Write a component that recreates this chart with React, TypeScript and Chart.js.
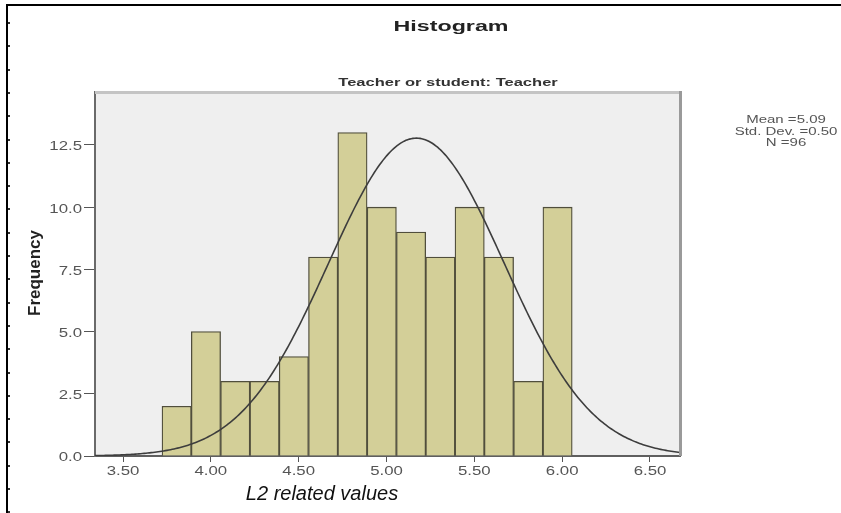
import React, { useEffect, useRef } from "react";
import { Chart, registerables } from "chart.js";

Chart.register(...registerables);

// ---- data ----
const binCenters = [3.8054, 3.9722, 4.139, 4.3058, 4.4726, 4.6394, 4.8062, 4.973, 5.1398, 5.3066, 5.4734, 5.6402, 5.807, 5.9738];
const frequencies = [2, 5, 3, 3, 4, 8, 13, 10, 9, 8, 10, 8, 3, 10];
const xTickValues = [3.5, 4.0, 4.5, 5.0, 5.5, 6.0, 6.5];
const xTickLabels = ["3.50", "4.00", "4.50", "5.00", "5.50", "6.00", "6.50"];
const yTickValues = [0, 2.5, 5, 7.5, 10, 12.5];
const yTickLabels = ["0.0", "2.5", "5.0", "7.5", "10.0", "12.5"];
const statsLines = ["Mean =5.09", "Std. Dev. =0.50", "N =96"];
const titleText = "Histogram";
const subtitleText = "Teacher or student: Teacher";
const xTitle = "L2 related values";
const yTitle = "Frequency";

// fitted normal curve parameters (as drawn)
const curveMean = 5.17;
const curveSd = 0.5;
const sampleSize = 96;
const binWidth = 0.1668;

const X_MIN = 3.3406;
const X_MAX = 6.6708;
const Y_MAX = 14.63;

function normalCurve() {
  const pts: { x: number; y: number }[] = [];
  const scale = (sampleSize * binWidth) / (curveSd * Math.sqrt(2 * Math.PI));
  for (let x = X_MIN; x <= X_MAX + 1e-9; x += 0.01) {
    const z = (x - curveMean) / curveSd;
    pts.push({ x, y: scale * Math.exp(-0.5 * z * z) });
  }
  return pts;
}

function stretchText(
  ctx: CanvasRenderingContext2D,
  text: string,
  x: number,
  y: number,
  font: string,
  color: string,
  sx: number,
  align: CanvasTextAlign,
  rotate = 0
) {
  ctx.save();
  ctx.font = font;
  ctx.fillStyle = color;
  ctx.textBaseline = "middle";
  ctx.textAlign = align;
  ctx.translate(x, y);
  if (rotate) ctx.rotate(rotate);
  ctx.scale(sx, 1);
  ctx.fillText(text, 0, 0);
  ctx.restore();
}

const FONT = "Arial, 'Liberation Sans', sans-serif";

const decorPlugin = {
  id: "spssDecor",
  beforeDraw(chart: any) {
    const { ctx, chartArea: a, width, height } = chart;
    ctx.save();
    ctx.fillStyle = "#ffffff";
    ctx.fillRect(0, 0, width, height);
    // outer frame
    ctx.fillStyle = "#000000";
    ctx.fillRect(6, 4, width - 6, 2);
    ctx.fillRect(6, 4, 2, height - 4);
    ctx.fillStyle = "#333333";
    for (let y = 22; y < height; y += 23.3) {
      ctx.fillRect(8, Math.round(y), 2, 2);
    }
    // plot background
    ctx.fillStyle = "#efefef";
    ctx.fillRect(a.left, a.top, a.right - a.left, a.bottom - a.top);
    ctx.restore();
  },
  afterDraw(chart: any) {
    const { ctx, chartArea: a } = chart;
    ctx.save();
    // top and right frame of the plot
    ctx.fillStyle = "#c4c4c4";
    ctx.fillRect(a.left, a.top - 1, a.right - a.left + 2, 3);
    ctx.fillStyle = "#9a9a9a";
    ctx.fillRect(a.right - 1, a.top - 1, 3, a.bottom - a.top + 1);
    ctx.restore();

    const xs = chart.scales.x;
    const ys = chart.scales.y;
    yTickValues.forEach((v, i) => {
      stretchText(ctx, yTickLabels[i], 82, ys.getPixelForValue(v) + 2, `12px ${FONT}`, "#555555", 1.4, "right");
    });
    xTickValues.forEach((v, i) => {
      stretchText(ctx, xTickLabels[i], xs.getPixelForValue(v), 472, `12px ${FONT}`, "#555555", 1.4, "center");
    });
    stretchText(ctx, titleText, 451, 27, `bold 15px ${FONT}`, "#222222", 1.55, "center");
    stretchText(ctx, subtitleText, 448, 83, `bold 11px ${FONT}`, "#333333", 1.5, "center");
    const sy = [120, 132, 143];
    statsLines.forEach((t, i) => {
      stretchText(ctx, t, 786, sy[i], `10px ${FONT}`, "#555555", 1.5, "center");
    });
    stretchText(ctx, yTitle, 35, 273, `bold 17px ${FONT}`, "#222222", 1, "center", -Math.PI / 2);
    stretchText(ctx, xTitle, 322, 494, `italic 20px ${FONT}`, "#111111", 1, "center");
  },
};

export default function App() {
  const ref = useRef<HTMLCanvasElement | null>(null);

  useEffect(() => {
    if (!ref.current) return;
    const chart = new Chart(ref.current, {
      type: "bar",
      data: {
        datasets: [
          {
            type: "line",
            label: "Normal",
            data: normalCurve(),
            borderColor: "#3d3d3d",
            borderWidth: 1.6,
            pointRadius: 0,
            fill: false,
            tension: 0,
            order: 0,
          } as any,
          {
            type: "bar",
            label: "Frequency",
            data: binCenters.map((x, i) => ({ x, y: frequencies[i] })),
            backgroundColor: "#d3cf98",
            borderColor: "#504e3c",
            borderWidth: 1.3,
            barPercentage: 1,
            categoryPercentage: 1,
            order: 1,
          } as any,
        ],
      },
      options: {
        responsive: false,
        animation: false,
        parsing: false as any,
        layout: { padding: { left: 0, right: 161, top: 92, bottom: 0 } },
        plugins: {
          legend: { display: false },
          tooltip: { enabled: false },
          title: { display: false },
        },
        scales: {
          x: {
            type: "linear",
            position: "bottom",
            offset: false,
            min: X_MIN,
            max: X_MAX,
            afterBuildTicks: (s: any) => {
              s.ticks = xTickValues.map((v) => ({ value: v }));
            },
            afterFit: (s: any) => {
              s.height = 57;
            },
            ticks: { display: false },
            grid: { offset: false, drawOnChartArea: false, drawTicks: true, tickLength: 6, color: "#555555", lineWidth: 1 },
            border: { display: true, color: "#5f5f5f", width: 2 },
          },
          y: {
            type: "linear",
            min: 0,
            max: Y_MAX,
            afterBuildTicks: (s: any) => {
              s.ticks = yTickValues.map((v) => ({ value: v }));
            },
            afterFit: (s: any) => {
              s.width = 95;
            },
            ticks: { display: false },
            grid: { drawOnChartArea: false, drawTicks: true, tickLength: 11, color: "#555555", lineWidth: 1 },
            border: { display: true, color: "#6a6a6a", width: 2 },
          },
        },
      },
      plugins: [decorPlugin],
    });
    return () => chart.destroy();
  }, []);

  return (
    <div style={{ position: "absolute", left: 0, top: 0, width: 841, height: 513 }}>
      <canvas ref={ref} width={841} height={513} style={{ display: "block" }} />
    </div>
  );
}
